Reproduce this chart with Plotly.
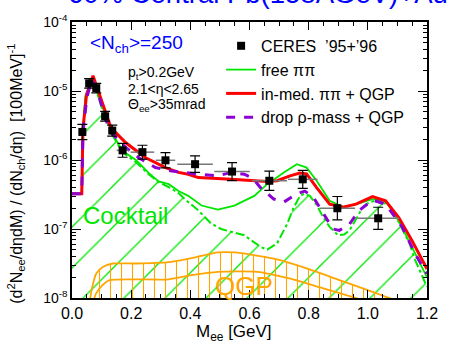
import plotly.graph_objects as go

# ---------------- data ----------------
# CERES '95+'96 data points
ceres_m = [0.035, 0.058, 0.082, 0.112, 0.136, 0.171, 0.238, 0.316, 0.416, 0.541, 0.667, 0.780, 0.897, 1.035]
ceres_y = [2.55e-6, 1.29e-5, 1.10e-5, 4.30e-6, 2.67e-6, 1.38e-6, 1.30e-6, 9.9e-7, 8.7e-7, 6.8e-7, 5.0e-7, 5.25e-7, 2.0e-7, 1.43e-7]
ceres_logerr = [0.11, 0.07, 0.07, 0.07, 0.08, 0.10, 0.10, 0.11, 0.12, 0.13, 0.14, 0.13, 0.17, 0.16]
ceres_xerr = [0.008, 0.010, 0.010, 0.012, 0.012, 0.020, 0.040, 0.033, 0.060, 0.060, 0.060, 0.050, 0.060, 0.070]

# curves: mass [GeV] and log10 of yield
cock_m = [0.0, 0.033, 0.036, 0.045, 0.066, 0.08, 0.10, 0.116, 0.138, 0.171, 0.216, 0.26, 0.293, 0.33, 0.36, 0.382,
          0.427, 0.47, 0.504, 0.53, 0.582, 0.638, 0.66, 0.693, 0.727, 0.749, 0.771, 0.785, 0.804, 0.827, 0.849,
          0.871, 0.899, 0.92, 0.938, 0.96, 0.982, 1.005, 1.027, 1.05, 1.071, 1.095, 1.116, 1.14, 1.16, 1.18, 1.2]
cock_log = [-6.49, -6.49, -5.70, -5.10, -4.86, -4.97, -5.23, -5.41, -5.65, -5.89, -6.03, -6.21, -6.32, -6.40, -6.48, -6.57,
            -6.73, -6.92, -7.00, -7.03, -7.09, -7.26, -7.30, -7.21, -6.93, -6.69, -6.52, -6.49, -6.52, -6.65, -6.83,
            -6.97, -7.09, -7.08, -7.02, -6.86, -6.69, -6.61, -6.59, -6.61, -6.66, -6.82, -7.00, -7.20, -7.45, -7.65, -7.84]

free_m = [0.0, 0.033, 0.036, 0.045, 0.066, 0.08, 0.10, 0.116, 0.138, 0.171, 0.216, 0.26, 0.293, 0.327, 0.36, 0.393,
          0.438, 0.493, 0.549, 0.616, 0.66, 0.716, 0.76, 0.793, 0.827, 0.871, 0.916, 0.96, 1.016, 1.06, 1.104, 1.149, 1.2]
free_log = [-6.49, -6.49, -5.70, -5.08, -4.84, -4.95, -5.20, -5.39, -5.63, -5.87, -6.00, -6.19, -6.31, -6.35, -6.45, -6.52,
            -6.66, -6.72, -6.66, -6.52, -6.35, -6.18, -6.06, -6.11, -6.30, -6.59, -6.68, -6.64, -6.566, -6.59, -6.88, -7.26, -7.70]

red_m = [0.0, 0.033, 0.037, 0.049, 0.071, 0.104, 0.132, 0.182, 0.249, 0.316, 0.36, 0.393, 0.427, 0.537, 0.627, 0.66,
         0.693, 0.737, 0.77, 0.793, 0.827, 0.871, 0.916, 0.96, 1.016, 1.06, 1.104, 1.149, 1.2]
red_log = [-6.49, -6.49, -5.55, -5.06, -4.78, -5.20, -5.535, -5.75, -5.967, -6.11, -6.18, -6.206, -6.255, -6.278, -6.30, -6.31,
           -6.30, -6.23, -6.19, -6.20, -6.40, -6.64, -6.686, -6.64, -6.53, -6.59, -6.83, -7.165, -7.58]

drop_m = [0.0, 0.033, 0.037, 0.05, 0.066, 0.08, 0.103, 0.127, 0.182, 0.227, 0.282, 0.338, 0.427, 0.493, 0.537, 0.582,
          0.61, 0.637, 0.682, 0.716, 0.76, 0.787, 0.816, 0.849, 0.882, 0.904, 0.938, 0.971, 1.016, 1.06, 1.116, 1.16, 1.2]
drop_log = [-6.49, -6.49, -5.60, -5.10, -4.84, -4.92, -5.25, -5.58, -5.82, -5.97, -6.11, -6.16, -6.206, -6.23, -6.18, -6.206,
            -6.26, -6.40, -6.566, -6.61, -6.49, -6.45, -6.54, -6.78, -7.00, -7.02, -6.93, -6.73, -6.58, -6.64, -6.97, -7.36, -7.65]

qgp_up_m = [0.06, 0.068, 0.082, 0.104, 0.138, 0.216, 0.327, 0.416, 0.493, 0.55, 0.604, 0.682, 0.793, 0.904, 1.016, 1.104, 1.15]
qgp_up_log = [-8.05, -7.85, -7.645, -7.55, -7.50, -7.50, -7.48, -7.41, -7.34, -7.34, -7.37, -7.43, -7.57, -7.74, -7.91, -8.05, -8.12]
qgp_lo_m = [0.072, 0.082, 0.104, 0.127, 0.327, 0.404, 0.493, 0.627, 0.738, 0.849, 0.96, 1.016, 1.07]
qgp_lo_log = [-8.05, -7.93, -7.81, -7.74, -7.73, -7.67, -7.62, -7.62, -7.72, -7.86, -8.00, -8.08, -8.15]

x_ticks = [0.0, 0.2, 0.4, 0.6, 0.8, 1.0, 1.2]
x_ticktext = ["0.0", "0.2", "0.4", "0.6", "0.8", "1.0", "1.2"]
y_ticks = [1e-8, 1e-7, 1e-6, 1e-5, 1e-4]
y_ticktext = ["10<sup>-8</sup>", "10<sup>-7</sup>", "10<sup>-6</sup>", "10<sup>-5</sup>", "10<sup>-4</sup>"]

# ---------------- styling ----------------
GREEN = "#00e600"
RED = "#ff0000"
PURPLE = "#8c00d4"
ORANGE = "#ffa500"
BLUE = "#0000ff"
FONT = "Liberation Sans, Arial, sans-serif"
BOTTOM = 1e-9

def lin(a):
    return [10.0 ** v for v in a]

fig = go.Figure()

# cocktail hatched region
fig.add_trace(go.Scatter(
    x=cock_m + [cock_m[-1], cock_m[0]], y=lin(cock_log) + [BOTTOM, BOTTOM],
    fill="toself", mode="none", fillcolor="rgba(0,0,0,0)",
    fillpattern=dict(shape="/", size=29, solidity=0.045, fgcolor=GREEN, fgopacity=1),
    showlegend=False, hoverinfo="skip"))

# QGP hatched region
fig.add_trace(go.Scatter(
    x=qgp_up_m + [qgp_up_m[-1], qgp_up_m[0]], y=lin(qgp_up_log) + [BOTTOM, BOTTOM],
    fill="toself", mode="none", fillcolor="rgba(0,0,0,0)",
    fillpattern=dict(shape="|", size=11, solidity=0.1, fgcolor=ORANGE, fgopacity=1),
    showlegend=False, hoverinfo="skip"))

fig.add_trace(go.Scatter(x=qgp_up_m, y=lin(qgp_up_log), mode="lines",
                         line=dict(color=ORANGE, width=1.8, shape="spline", smoothing=0.6),
                         showlegend=False, hoverinfo="skip"))
fig.add_trace(go.Scatter(x=qgp_lo_m, y=lin(qgp_lo_log), mode="lines",
                         line=dict(color=ORANGE, width=1.8, shape="spline", smoothing=0.6),
                         showlegend=False, hoverinfo="skip"))

# cocktail dash-dot
fig.add_trace(go.Scatter(x=cock_m, y=lin(cock_log), mode="lines",
                         line=dict(color=GREEN, width=2, dash="dashdot"),
                         showlegend=False, hoverinfo="skip"))

fig.add_trace(go.Scatter(x=free_m, y=lin(free_log), mode="lines", name="free ππ", legendrank=2,
                         line=dict(color=GREEN, width=1.8)))
fig.add_trace(go.Scatter(x=red_m, y=lin(red_log), mode="lines", name="in-med. ππ + QGP", legendrank=3,
                         line=dict(color=RED, width=3)))
fig.add_trace(go.Scatter(x=drop_m, y=lin(drop_log), mode="lines", name="drop ρ-mass + QGP", legendrank=4,
                         line=dict(color=PURPLE, width=3, dash="dash")))

# data points
yerr_p = [y * (10 ** e - 1) for y, e in zip(ceres_y, ceres_logerr)]
yerr_m = [y * (1 - 10 ** (-e)) for y, e in zip(ceres_y, ceres_logerr)]
fig.add_trace(go.Scatter(
    x=ceres_m, y=ceres_y, mode="markers", name="CERES  ’95+’96", legendrank=1,
    marker=dict(symbol="square", size=8, color="black"),
    error_y=dict(type="data", array=yerr_p, arrayminus=yerr_m, color="black", thickness=1.2, width=5),
    error_x=dict(type="data", array=ceres_xerr, color="#777777", thickness=1.5, width=0)))

minor_y = [m * 10.0 ** d for d in range(-8, -4) for m in range(2, 10)]

axis_common = dict(showline=True, linecolor="black", linewidth=1.5, mirror="allticks",
                   ticks="inside", tickcolor="black", showgrid=False, zeroline=False)

fig.update_layout(
    width=450, height=355,
    margin=dict(l=72, r=17, t=20, b=57),
    paper_bgcolor="white", plot_bgcolor="white",
    font=dict(family=FONT, color="black"),
    xaxis=dict(range=[0, 1.2], tickmode="array", tickvals=x_ticks, ticktext=x_ticktext, ticklen=8,
               tickfont=dict(family=FONT, size=16, color="black"),
               minor=dict(dtick=0.05, ticks="inside", ticklen=4, tickcolor="black"), **axis_common),
    yaxis=dict(type="log", range=[-8, -4], tickmode="array", tickvals=y_ticks, ticktext=y_ticktext, ticklen=9,
               tickfont=dict(family=FONT, size=14, color="black"),
               minor=dict(tickmode="array", tickvals=minor_y, ticks="inside", ticklen=4, tickcolor="black"),
               **axis_common),
    legend=dict(x=0.42, y=0.975, xanchor="left", yanchor="top", bgcolor="rgba(0,0,0,0)",
                font=dict(family=FONT, size=16, color="black"), tracegroupgap=0, traceorder="normal"),
    showlegend=True,
)

ann = [
    dict(text="60% Central Pb(158AGeV)+Au", x=0.525, y=1.105, xref="paper", yref="paper",
         xanchor="center", yanchor="middle", font=dict(size=27.5, color=BLUE)),
    dict(text="&lt;N<sub>ch</sub>&gt;=250", x=0.045, y=0.92, xref="paper", yref="paper",
         xanchor="left", yanchor="middle", font=dict(size=19, color=BLUE)),
    dict(text="p<sub>t</sub>&gt;0.2GeV", x=0.152, y=0.815, xref="paper", yref="paper",
         xanchor="left", yanchor="middle", font=dict(size=14, color="black")),
    dict(text="2.1&lt;η&lt;2.65", x=0.152, y=0.757, xref="paper", yref="paper",
         xanchor="left", yanchor="middle", font=dict(size=14, color="black")),
    dict(text="Θ<sub>ee</sub>&gt;35mrad", x=0.152, y=0.70, xref="paper", yref="paper",
         xanchor="left", yanchor="middle", font=dict(size=14, color="black")),
    dict(text="Cocktail", x=0.15, y=0.30, xref="paper", yref="paper",
         xanchor="center", yanchor="middle", font=dict(size=24, color=GREEN)),
    dict(text="QGP", x=0.485, y=0.045, xref="paper", yref="paper",
         xanchor="center", yanchor="middle", font=dict(size=26, color=ORANGE)),
    dict(text="M<sub>ee</sub> [GeV]", x=0.457, y=-0.125, xref="paper", yref="paper",
         xanchor="center", yanchor="middle", font=dict(size=17, color="black")),
    dict(text="(d<sup>2</sup>N<sub>ee</sub>/dηdM) / (dN<sub>ch</sub>/dη)  [100MeV]<sup>-1</sup>",
         x=-0.158, y=0.45, xref="paper", yref="paper", textangle=-90,
         xanchor="center", yanchor="middle", font=dict(size=16, color="black")),
]
for a in ann:
    a["showarrow"] = False
    fig.add_annotation(**a)

fig.write_html("out.html", config={"displayModeBar": False},
               post_script="document.body.style.margin='0px';")
